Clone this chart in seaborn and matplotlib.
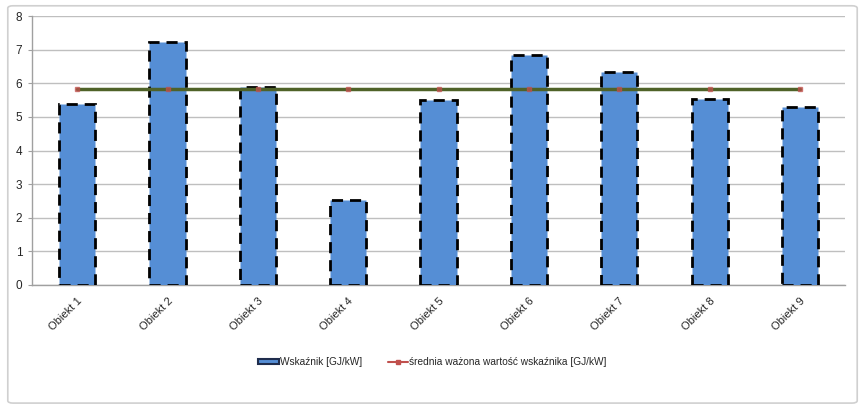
import numpy as np
import matplotlib
matplotlib.use("Agg")
import matplotlib.pyplot as plt
import seaborn as sns
from matplotlib.patches import FancyBboxPatch

sns.set_style("white")
plt.rcParams["font.family"] = ["Liberation Sans", "DejaVu Sans"]

# Data
categories = ["Obiekt 1", "Obiekt 2", "Obiekt 3", "Obiekt 4", "Obiekt 5",
              "Obiekt 6", "Obiekt 7", "Obiekt 8", "Obiekt 9"]
wskaznik = [5.39, 7.23, 5.89, 2.53, 5.51, 6.85, 6.34, 5.54, 5.30]
srednia = [5.83] * len(categories)
y_ticks = [0, 1, 2, 3, 4, 5, 6, 7, 8]

bar_label = "Wskaźnik [GJ/kW]"
line_label = "średnia ważona wartość wskaźnika [GJ/kW]"

fig = plt.figure(figsize=(8.65, 4.13), dpi=100)
ax = fig.add_axes([0.037, 0.310, 0.940, 0.651])

# outer chart border
fig.patches.append(FancyBboxPatch((0.009, 0.024), 0.982, 0.962,
                                  boxstyle="round,pad=0,rounding_size=0.006",
                                  transform=fig.transFigure, facecolor="none",
                                  edgecolor="#D0D0D0", linewidth=1.2))

sns.barplot(x=categories, y=wskaznik, color="#558ED5", width=0.4,
            edgecolor="black", linewidth=2, linestyle=(0, (4, 2.5)),
            saturation=1, ax=ax, zorder=3)

pos = np.arange(len(categories))
ax.plot(pos, srednia, color="#4F6228", linewidth=2.5, zorder=5)
ax.plot(pos, srednia, color="#C0504D", marker="s", markersize=3,
        linestyle="none", zorder=6, alpha=0.7)

ax.set_xlim(-0.5, len(categories) - 0.5)
ax.set_ylim(0, 8)
ax.set_yticks(y_ticks)
ax.set_yticklabels([str(t) for t in y_ticks], fontsize=8.5)
ax.grid(axis="y", color="#BFBFBF", linewidth=1, zorder=0)
ax.set_axisbelow(True)

ax.set_xticks(pos)
ax.set_xticklabels(categories, rotation=45, ha="right", rotation_mode="anchor",
                   fontsize=8)
ax.tick_params(axis="x", length=0, pad=8)
ax.set_xticks(np.arange(-0.5, len(categories), 1), minor=True)
ax.tick_params(axis="x", which="minor", length=3, color="#A0A0A0")
ax.tick_params(axis="y", length=3, color="#A0A0A0", pad=4, left=True)
ax.set_xlabel("")
ax.set_ylabel("")

for side in ["top", "right"]:
    ax.spines[side].set_visible(False)
for side in ["left", "bottom"]:
    ax.spines[side].set_color("#A0A0A0")
    ax.spines[side].set_linewidth(1)

# legend handles
bar_handle = plt.Rectangle((0, 0), 1, 1, facecolor="#558ED5", edgecolor="#1F2D4D",
                           linewidth=1.5)
line_handle = plt.Line2D([], [], color="#C0504D", marker="s", markersize=3,
                         linewidth=1.5)
fig.legend([bar_handle, line_handle], [bar_label, line_label], loc="center",
           bbox_to_anchor=(0.5, 0.123), ncol=2, frameon=False, fontsize=7.3,
           handlelength=2.0, handleheight=0.5, handletextpad=0.15,
           columnspacing=2.5)

fig.savefig("out.png", dpi=100)
